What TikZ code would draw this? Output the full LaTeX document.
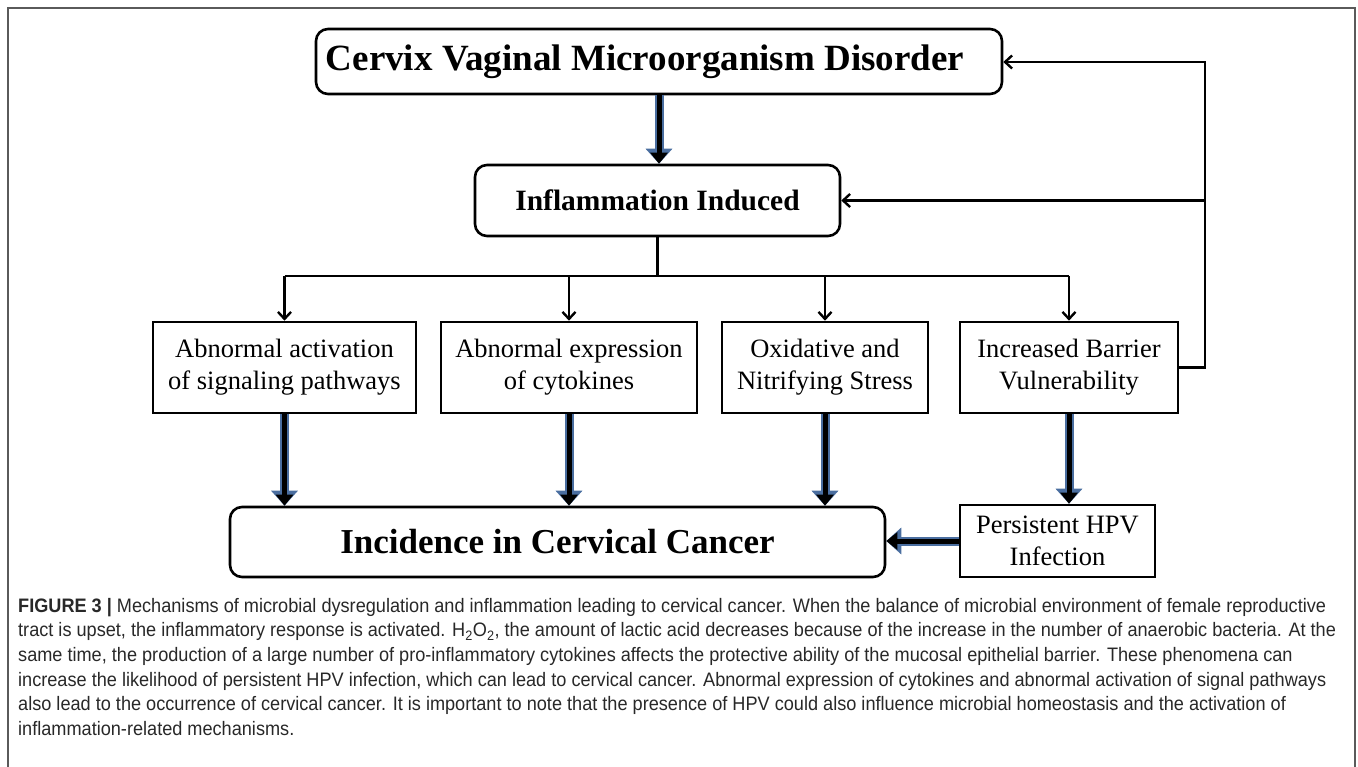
\documentclass[tikz,border=0pt]{standalone}
\usepackage{fontspec}
\setmainfont{Liberation Serif}
\newfontfamily\capfont[FakeStretch=0.93]{Liberation Sans}
\usetikzlibrary{arrows.meta}
\definecolor{arrowblue}{RGB}{74,110,160}
\definecolor{framegray}{RGB}{90,90,90}
\definecolor{captext}{RGB}{40,40,40}
\tikzset{
  roundbox/.style={draw, line width=2.6pt, rounded corners=12pt, align=center, inner sep=0pt},
  plainbox/.style={draw, line width=2.6pt, align=center, inner sep=0pt, font=\fontsize{26.5}{32}\selectfont},
  thinarrow/.style={line width=2.4pt, -{Straight Barb[length=7pt,width=13pt]}},
  fatarrow/.style={line width=5pt, -{Triangle[length=11pt,width=17pt]},
    preaction={draw=arrowblue, line width=9pt, -{Triangle[length=15pt,width=26pt]}}},
}
\begin{document}
\begin{tikzpicture}[x=1pt,y=-1pt]
  \useasboundingbox (0,0) rectangle (1358,767);
  \draw[framegray, line width=2pt] (8,767) -- (8,8) -- (1355,8) -- (1355,767); % figure frame

  \node[roundbox, minimum width=686pt, minimum height=65pt, font=\bfseries\fontsize{37}{40}\selectfont] (disorder) at (659,61.5) {Cervix Vaginal Microorganism Disorder\hspace*{28pt}};
  \node[roundbox, minimum width=365pt, minimum height=71pt, font=\bfseries\fontsize{29.5}{34}\selectfont] (inflam) at (657.5,200.5) {Inflammation Induced};

  % the four mechanisms (name/centre x/width/text)
  \foreach \name/\cx/\bw/\txt in {sig/284.5/263/{Abnormal activation\\of signaling pathways},
      cyto/569/256/{Abnormal expression\\of cytokines},
      oxid/825/206/{Oxidative and\\Nitrifying Stress},
      barrier/1069/218/{Increased Barrier\\Vulnerability}} {
    \node[plainbox, minimum width=\bw pt, minimum height=91pt] (\name) at (\cx,367.5) {\txt};
  }

  \node[roundbox, minimum width=655pt, minimum height=70pt, font=\bfseries\fontsize{35}{40}\selectfont] (incid) at (557.5,542) {Incidence in Cervical Cancer};
  \node[plainbox, minimum width=195pt, minimum height=72pt] (hpv) at (1057.5,541) {Persistent HPV\\Infection};

  \draw[fatarrow] (disorder.south) -- (disorder.south |- inflam.north);

  % branching below the inflammation box
  \coordinate (split) at (inflam.south |- 0,276);
  \draw[line width=2.4pt] (inflam.south) -- (split);
  \draw[line width=2.4pt] (sig.north |- split) -- (barrier.north |- split);
  \foreach \name in {sig,cyto,oxid,barrier}
    \draw[thinarrow] (\name.north |- split) -- (\name.north);

  % feedback from the barrier box
  \coordinate (rail) at (1205,62);
  \draw[thinarrow] (barrier.east) -| (rail) -- (disorder.east |- rail);
  \draw[thinarrow] (rail |- inflam.east) -- (inflam.east);

  \foreach \name in {sig,cyto,oxid}
    \draw[fatarrow] (\name.south) -- (\name.south |- incid.north);
  \draw[fatarrow] (barrier.south) -- (barrier.south |- hpv.north);
  \draw[fatarrow] (hpv.west) -- (incid.east |- hpv.west);

  \node[anchor=north west, align=left, inner sep=0pt, text=captext, font=\capfont\fontsize{19.5}{24.6}\selectfont] (caption) at (18,598) {%
    {\bfseries FIGURE 3 |} Mechanisms of microbial dysregulation and inflammation leading to cervical cancer. When the balance of microbial environment of female reproductive\\
    tract is upset, the inflammatory response is activated. H\textsubscript{2}O\textsubscript{2}, the amount of lactic acid decreases because of the increase in the number of anaerobic bacteria. At the\\
    same time, the production of a large number of pro-inflammatory cytokines affects the protective ability of the mucosal epithelial barrier. These phenomena can\\
    increase the likelihood of persistent HPV infection, which can lead to cervical cancer. Abnormal expression of cytokines and abnormal activation of signal pathways\\
    also lead to the occurrence of cervical cancer. It is important to note that the presence of HPV could also influence microbial homeostasis and the activation of\\
    inflammation-related mechanisms.};
\end{tikzpicture}
\end{document}
